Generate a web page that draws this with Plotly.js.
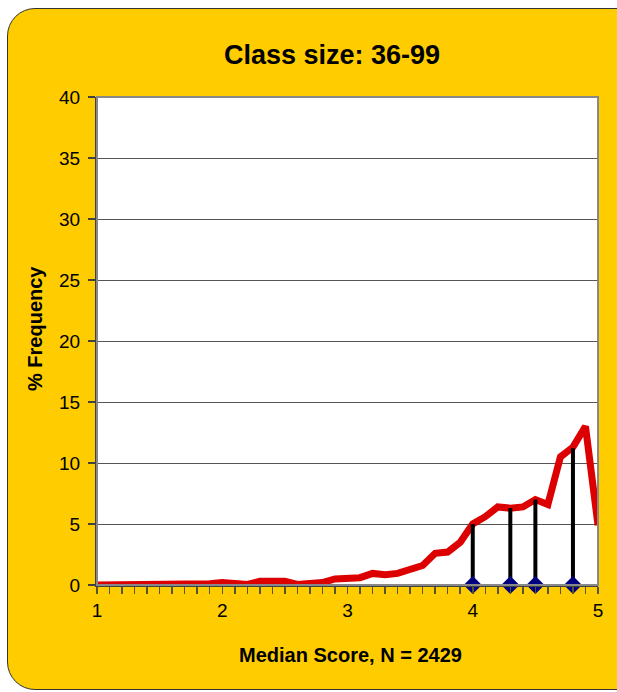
<!DOCTYPE html>
<html>
<head>
<meta charset="utf-8">
<script src="https://cdn.plot.ly/plotly-3.0.1.min.js"></script>
<style>
  html, body { margin: 0; padding: 0; background: #ffffff; overflow: hidden; width: 617px; height: 692px; }
  #wrap { position: absolute; left: 0; top: 0; width: 617px; height: 692px; overflow: hidden; }
  #frame { position: absolute; left: 7px; top: 8px; width: 640px; height: 682px; box-sizing: border-box;
           background: #FFCC00; border: 1.5px solid #333333; border-radius: 28px; }
  #chart { position: absolute; left: 0; top: 0; width: 617px; height: 692px; }
</style>
</head>
<body>
<div id="wrap">
  <div id="frame"></div>
  <div id="chart"></div>
</div>
<script>
// Median score bins (x) and % frequency (y)
const scores = [1.0,1.1,1.2,1.3,1.4,1.5,1.6,1.7,1.8,1.9,2.0,2.1,2.2,2.3,2.4,2.5,2.6,2.7,2.8,2.9,3.0,
                3.1,3.2,3.3,3.4,3.5,3.6,3.7,3.8,3.9,4.0,4.1,4.2,4.3,4.4,4.5,4.6,4.7,4.8,4.9,5.0];
const freq   = [0,0,0,0,0,0.1,0.05,0,0,0.1,0.2,0.1,0.05,0.3,0.25,0.3,0.05,0.1,0.2,0.5,0.6,
                0.6,0.95,0.85,0.95,1.3,1.6,2.6,2.7,3.5,5.0,5.6,6.4,6.3,6.4,7.0,6.6,10.5,11.3,13.0,4.9];
// Marker stems
const stemX = [4.0, 4.3, 4.5, 4.8];
const stemY = [5.0, 6.3, 7.0, 11.2];
const yTicks = [0,5,10,15,20,25,30,35,40];
const xTicks = [1,2,3,4,5];

const sx = [], sy = [];
stemX.forEach((x, i) => { sx.push(x, x, null); sy.push(0, stemY[i], null); });

const traces = [
  { x: scores, y: freq, type: 'scatter', mode: 'lines',
    line: { color: '#DD0000', width: 7 }, hoverinfo: 'skip' },
  { x: sx, y: sy, type: 'scatter', mode: 'lines',
    line: { color: '#000000', width: 4 }, hoverinfo: 'skip' },
  { x: stemX, y: stemX.map(() => 0), type: 'scatter', mode: 'markers',
    marker: { symbol: 'diamond', size: 14, color: '#000080' }, cliponaxis: false, hoverinfo: 'skip' }
];

const layout = {
  width: 617, height: 692,
  margin: { l: 97, r: 19, t: 97, b: 107 },
  paper_bgcolor: 'rgba(0,0,0,0)',
  plot_bgcolor: '#ffffff',
  showlegend: false,
  font: { family: 'Liberation Sans, Arial, sans-serif', color: '#000000', size: 19 },
  title: { text: '<b>Class size: 36-99</b>', font: { size: 27, family: 'Liberation Sans, Arial, sans-serif' },
           x: 332/617, xref: 'container', xanchor: 'center', y: 1 - 55/692, yref: 'container', yanchor: 'middle' },
  xaxis: {
    range: [1, 5], tickvals: xTicks, ticktext: xTicks.map(String),
    showgrid: false, zeroline: false, showline: true, linecolor: '#404040', linewidth: 2,
    ticks: 'outside', ticklen: 7, tickcolor: '#555533', tickwidth: 1.5,
    minor: { dtick: 0.1, tick0: 1, ticks: 'outside', ticklen: 7, tickcolor: '#555533', tickwidth: 1.5, showgrid: false },
    tickfont: { size: 19 }, ticklabelstandoff: 0
  },
  yaxis: {
    range: [0, 40], tickvals: yTicks, ticktext: yTicks.map(String),
    showgrid: true, gridcolor: '#555555', gridwidth: 1, zeroline: false,
    showline: true, linecolor: '#404040', linewidth: 2,
    ticks: 'outside', ticklen: 7, tickcolor: '#404040', tickwidth: 1.5,
    tickfont: { size: 19 }, ticklabelstandoff: 4
  },
  annotations: [
    { text: '<b>Median Score, N = 2429</b>', xref: 'paper', yref: 'paper',
      x: (350 - 97) / 501, y: -(655 - 585) / 488, xanchor: 'center', yanchor: 'middle',
      showarrow: false, font: { size: 20 } },
    { text: '<b>% Frequency</b>', xref: 'paper', yref: 'paper', textangle: -90,
      x: (35 - 97) / 501, y: (585 - 329) / 488, xanchor: 'center', yanchor: 'middle',
      showarrow: false, font: { size: 20 } }
  ],
  shapes: [
    { type: 'rect', xref: 'paper', yref: 'paper', x0: 0, x1: 1, y0: 0, y1: 1,
      line: { color: '#888888', width: 2 }, layer: 'above' }
  ]
};

Plotly.newPlot('chart', traces, layout, { staticPlot: true, displayModeBar: false });
</script>
</body>
</html>
